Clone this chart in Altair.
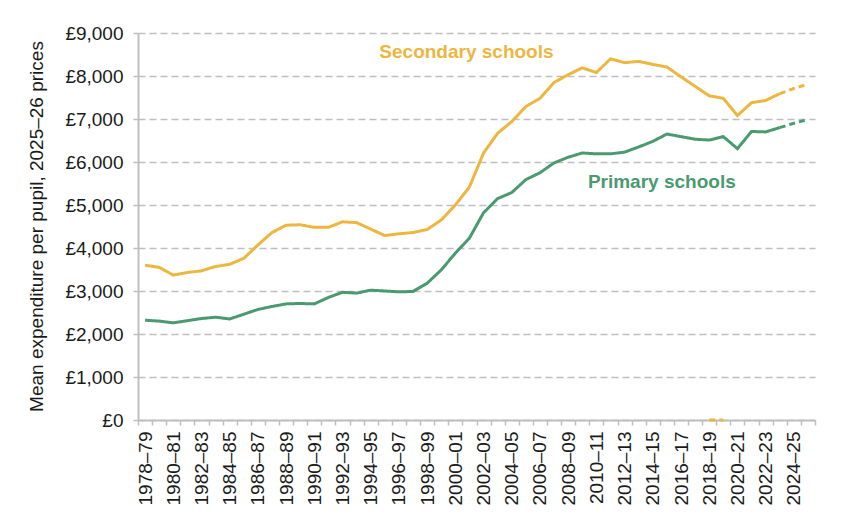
import altair as alt
import pandas as pd

years = [
    "1978–79", "1979–80", "1980–81", "1981–82", "1982–83", "1983–84", "1984–85", "1985–86",
    "1986–87", "1987–88", "1988–89", "1989–90", "1990–91", "1991–92", "1992–93", "1993–94",
    "1994–95", "1995–96", "1996–97", "1997–98", "1998–99", "1999–00", "2000–01", "2001–02",
    "2002–03", "2003–04", "2004–05", "2005–06", "2006–07", "2007–08", "2008–09", "2009–10",
    "2010–11", "2011–12", "2012–13", "2013–14", "2014–15", "2015–16", "2016–17", "2017–18",
    "2018–19", "2019–20", "2020–21", "2021–22", "2022–23", "2023–24", "2024–25", "2025–26",
]

secondary = [
    3600, 3550, 3370, 3430, 3470, 3570, 3620, 3760,
    4070, 4360, 4530, 4540, 4480, 4480, 4610, 4590,
    4440, 4290, 4330, 4360, 4430, 4650, 5000, 5420,
    6210, 6670, 6940, 7290, 7480, 7850, 8030, 8190,
    8080, 8400, 8310, 8340, 8270, 8210, 7980, 7760,
    7540, 7480, 7080, 7380, 7430, 7590, 7710, 7810,
]

primary = [
    2320, 2300, 2260, 2310, 2360, 2390, 2350, 2460,
    2570, 2640, 2700, 2710, 2700, 2850, 2970, 2950,
    3020, 3000, 2980, 2990, 3180, 3490, 3880, 4230,
    4820, 5150, 5290, 5590, 5750, 5980, 6110, 6210,
    6190, 6190, 6230, 6350, 6480, 6650, 6590, 6530,
    6510, 6590, 6310, 6710, 6700, 6800, 6900, 6990,
]

projection_start = "2023–24"
stray_years = ["2018–19", "2019–20"]
stray_values = [0, 0]

series_names = ["Secondary schools", "Primary schools"]
series_colors = ["#EDB63F", "#4A9A6F"]

label_years = ["2001–02", "2014–15"]
label_values = [8560, 5540]
label_dx = [-3, 9]

rows = []
split = years.index(projection_start)
for name, vals in zip(series_names, (secondary, primary)):
    for i, (yr, v) in enumerate(zip(years, vals)):
        if i <= split:
            rows.append(dict(series=name, part="actual", grp=name + " a", year=yr, value=v))
        if i >= split:
            rows.append(dict(series=name, part="projected", grp=name + " p", year=yr, value=v))
for yr, v in zip(stray_years, stray_values):
    rows.append(dict(series=series_names[0], part="projected", grp="stray", year=yr, value=v))
df = pd.DataFrame(rows)

x_scale = alt.Scale(type="band", domain=years, paddingInner=0, paddingOuter=0)
y_scale = alt.Scale(domain=[0, 9000], nice=False)
color_scale = alt.Scale(domain=series_names, range=series_colors)

x_axis = alt.Axis(
    title=None,
    labelAngle=-90,
    labelFontSize=19,
    labelFont="Liberation Sans",
    labelColor="#1a1a1a",
    labelExpr="toNumber(substring(datum.value, 0, 4)) % 2 == 0 ? datum.value : ''",
    labelOverlap=False,
    labelPadding=6,
    tickBand="extent",
    tickSize=5,
    tickColor="#BFBFBF",
    tickWidth=1.5,
    domainColor="#BFBFBF",
    domainWidth=2,
    grid=False,
)

y_axis = alt.Axis(
    title="Mean expenditure per pupil, 2025–26 prices",
    titleFontSize=19,
    titleFont="Liberation Sans",
    titleFontWeight="normal",
    titleColor="#1a1a1a",
    titleAngle=-90,
    titleX=-102,
    titleY=193,
    titleAlign="center",
    titleBaseline="middle",
    values=[0, 1000, 2000, 3000, 4000, 5000, 6000, 7000, 8000, 9000],
    labelExpr="'£' + format(datum.value, ',')",
    labelFontSize=19,
    labelFont="Liberation Sans",
    labelColor="#1a1a1a",
    labelPadding=10,
    tickSize=5,
    tickColor="#BFBFBF",
    tickWidth=1.5,
    domainColor="#BFBFBF",
    domainWidth=2,
    grid=True,
    gridColor="#BFBFBF",
    gridDash=[7, 4],
    gridWidth=1.5,
)

lines = (
    alt.Chart(df)
    .mark_line(strokeWidth=3)
    .encode(
        x=alt.X("year:O", scale=x_scale, axis=x_axis, sort=years),
        y=alt.Y("value:Q", scale=y_scale, axis=y_axis),
        color=alt.Color("series:N", scale=color_scale, legend=None),
        strokeDash=alt.StrokeDash(
            "part:N",
            scale=alt.Scale(domain=["actual", "projected"], range=[[1, 0], [6, 4]]),
            legend=None,
        ),
        detail="grp:N",
    )
)

text_layers = []
for name, yr, v, dx in zip(series_names, label_years, label_values, label_dx):
    ldf = pd.DataFrame(dict(series=[name], year=[yr], value=[v]))
    text_layers.append(
        alt.Chart(ldf)
        .mark_text(fontSize=19, fontWeight="bold", font="Liberation Sans",
                   align="center", baseline="middle", dx=dx)
        .encode(
            x=alt.X("year:O", scale=x_scale, sort=years, bandPosition=0.5),
            y=alt.Y("value:Q", scale=y_scale),
            text="series:N",
            color=alt.Color("series:N", scale=color_scale, legend=None),
        )
    )

chart = (
    alt.layer(lines, *text_layers)
    .properties(
        width=677,
        height=387,
        autosize=alt.AutoSizeParams(type="none"),
        padding={"left": 138, "top": 33, "right": 33, "bottom": 108},
        background="white",
    )
    .configure_view(stroke=None)
)

chart.save("out.html", embed_options={"renderer": "svg", "actions": False})
